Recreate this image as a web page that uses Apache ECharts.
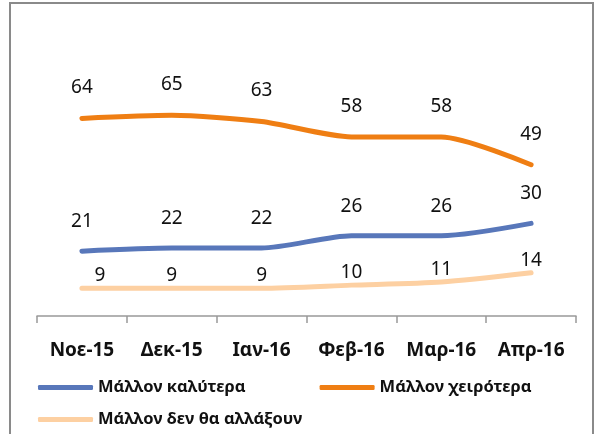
<!DOCTYPE html>
<html>
<head>
<meta charset="utf-8">
<script src="https://cdn.jsdelivr.net/npm/echarts@6/dist/echarts.min.js"></script>
<style>
  html, body { margin: 0; padding: 0; background: #fff; }
  #chart { width: 600px; height: 434px; }
</style>
</head>
<body>
<div id="chart"></div>
<script>
// μήνες
const months = ['Νοε-15', 'Δεκ-15', 'Ιαν-16', 'Φεβ-16', 'Μαρ-16', 'Απρ-16'];

const better = [21, 22, 22, 26, 26, 30];
const worse = [64, 65, 63, 58, 58, 49];
const noChange = [9, 9, 9, 10, 11, 14];

const seriesNames = ['Μάλλον καλύτερα', 'Μάλλον χειρότερα', 'Μάλλον δεν θα αλλάξουν'];

const font = '"Noto Sans", sans-serif';

const chart = echarts.init(document.getElementById('chart'));

const lineSeries = (name, data, color, dist) => ({
  name: name,
  type: 'line',
  data: data,
  smooth: 0.25,
  symbol: 'circle',
  symbolSize: 0,
  lineStyle: { color: color, width: 5, cap: 'round' },
  itemStyle: { color: color },
  label: {
    show: true,
    position: 'top',
    distance: dist,
    color: '#111',
    fontFamily: font,
    fontSize: 19
  },
  animation: false
});

const peach = lineSeries(seriesNames[2], noChange, '#FDD0A2', 3);
// erste Beschriftung etwas nach rechts wie im Original
peach.data = noChange.map((v, i) => i === 0 ? { value: v, label: { offset: [18, 0] } } : v);

const legendText = { fontFamily: font, fontWeight: 'bold', fontSize: 16.5, color: '#111' };

chart.setOption({
  animation: false,
  grid: { left: 37, right: 24, top: 69, bottom: 118 },
  xAxis: {
    type: 'category',
    data: months,
    boundaryGap: true,
    axisLine: { lineStyle: { color: '#999', width: 1.5 } },
    axisTick: { show: true, interval: 0, length: 7, lineStyle: { color: '#999', width: 1.5 } },
    axisLabel: {
      interval: 0,
      margin: 25,
      color: '#111',
      fontFamily: font,
      fontWeight: 'bold',
      fontSize: 19
    }
  },
  yAxis: {
    type: 'value',
    min: 0,
    max: 80,
    show: false
  },
  legend: [
    {
      data: [seriesNames[0], seriesNames[1]],
      left: 33,
      top: 374,
      icon: 'roundRect',
      itemWidth: 55,
      itemHeight: 5,
      itemGap: 74,
      textStyle: legendText
    },
    {
      data: [seriesNames[2]],
      left: 33,
      top: 406,
      icon: 'roundRect',
      itemWidth: 55,
      itemHeight: 5,
      textStyle: legendText
    }
  ],
  graphic: [
    {
      type: 'rect',
      shape: { x: 10, y: 3, width: 583, height: 450 },
      style: { fill: 'none', stroke: '#8a8a8a', lineWidth: 2 },
      silent: true
    }
  ],
  series: [
    lineSeries(seriesNames[0], better, '#5877BA', 20),
    lineSeries(seriesNames[1], worse, '#EF7E13', 21),
    peach
  ]
});
</script>
</body>
</html>
